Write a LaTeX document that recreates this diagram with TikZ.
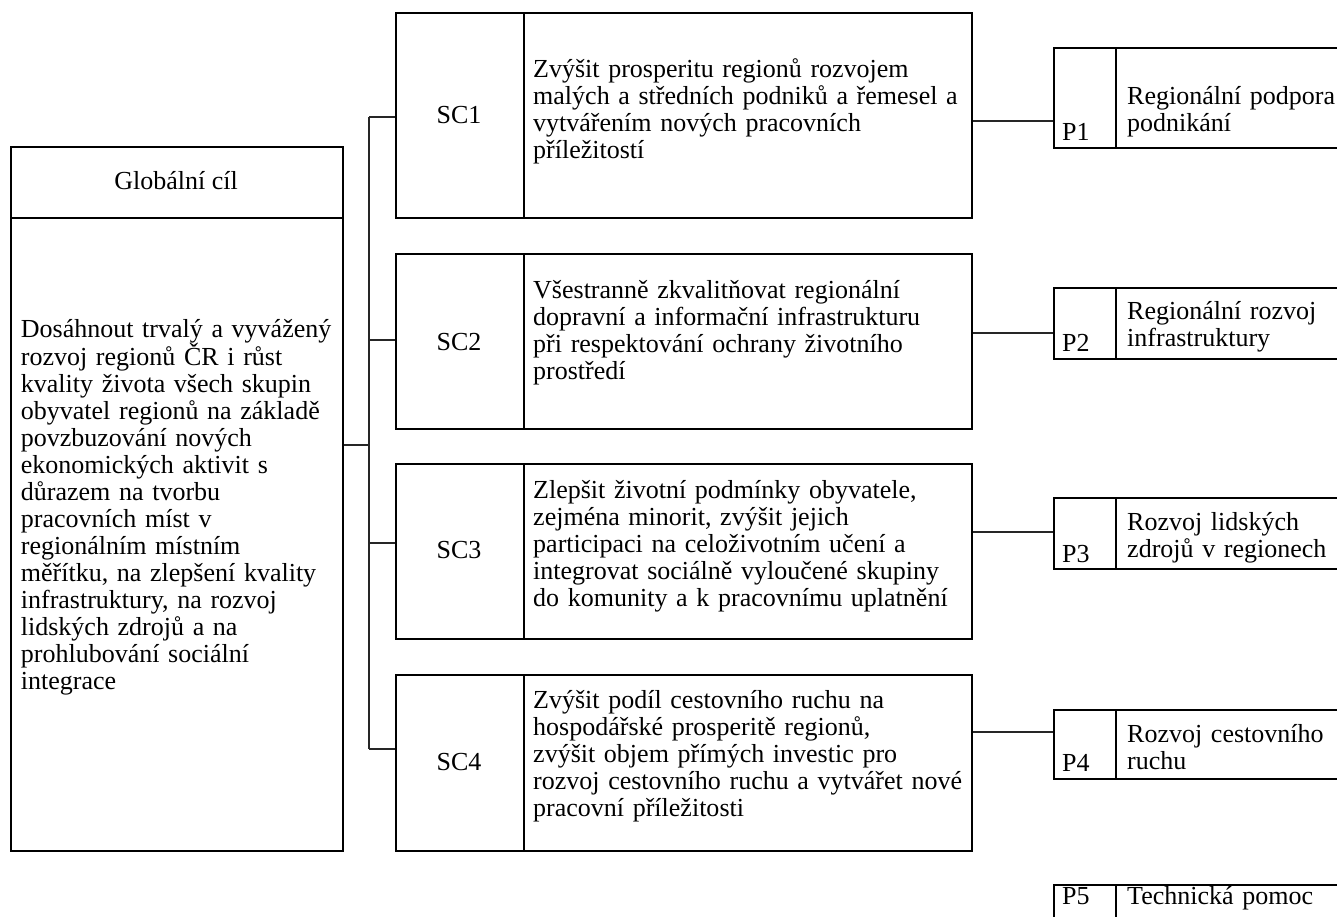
\documentclass[tikz,border=0pt]{standalone}
\usepackage{fontspec}
\setmainfont{Liberation Serif}
\begin{document}
\begin{tikzpicture}[x=1pt,y=-1pt,
  cell/.style={draw=black,line width=2pt,rectangle,inner sep=0pt,anchor=north west},
  txt/.style={inner sep=0pt,anchor=base west,align=left,text width=#1,font=\fontsize{26}{27}\selectfont},
  lbl/.style={inner sep=0pt,anchor=base,font=\fontsize{26}{27}\selectfont},
  plbl/.style={inner sep=0pt,anchor=base west,font=\fontsize{26}{27}\selectfont},
  conn/.style={line width=1.5pt,draw=black!85}]
\useasboundingbox (0,0) rectangle (1337,917);
\clip (0,0) rectangle (1337,917);
\fill[white] (0,0) rectangle (1337,917);
% global goal
\node[cell,minimum width=332pt,minimum height=71pt] (gtitle) at (10,146) {};
\node[cell,minimum width=332pt,minimum height=633pt] (gbody) at (10,217) {};
\node[lbl] (gtitletxt) at (176,190) {Globální cíl};
\node[txt=330pt] (gbodytxt) at (20.7,337) {Dosáhnout trvalý a vyvážený\\rozvoj regionů ČR i růst\\kvality života všech skupin\\obyvatel regionů na základě\\povzbuzování nových\\ekonomických aktivit s\\důrazem na tvorbu\\pracovních míst v\\regionálním místním\\měřítku, na zlepšení kvality\\infrastruktury, na rozvoj\\lidských zdrojů a na\\prohlubování sociální\\integrace};
% SC boxes
\node[cell,minimum width=128pt,minimum height=205pt] (sc1l) at (395,12) {};
\node[cell,minimum width=448pt,minimum height=205pt] (sc1t) at (523,12) {};
\node[cell,minimum width=128pt,minimum height=175pt] (sc2l) at (395,253) {};
\node[cell,minimum width=448pt,minimum height=175pt] (sc2t) at (523,253) {};
\node[cell,minimum width=128pt,minimum height=175pt] (sc3l) at (395,463) {};
\node[cell,minimum width=448pt,minimum height=175pt] (sc3t) at (523,463) {};
\node[cell,minimum width=128pt,minimum height=176pt] (sc4l) at (395,674) {};
\node[cell,minimum width=448pt,minimum height=176pt] (sc4t) at (523,674) {};
\node[lbl] (sc1lab) at (459,124) {SC1};
\node[lbl] (sc2lab) at (459,350) {SC2};
\node[lbl] (sc3lab) at (459,558) {SC3};
\node[lbl] (sc4lab) at (459,770) {SC4};
\node[txt=440pt] (sc1txt) at (533,78) {Zvýšit prosperitu regionů rozvojem\\malých a středních podniků a řemesel a\\vytvářením nových pracovních\\příležitostí};
\node[txt=440pt] (sc2txt) at (533,298) {Všestranně zkvalitňovat regionální\\dopravní a informační infrastrukturu\\při respektování ochrany životního\\prostředí};
\node[txt=440pt] (sc3txt) at (533,498) {Zlepšit životní podmínky obyvatele,\\zejména minorit, zvýšit jejich\\participaci na celoživotním učení a\\integrovat sociálně vyloučené skupiny\\do komunity a k pracovnímu uplatnění};
\node[txt=440pt] (sc4txt) at (533,708) {Zvýšit podíl cestovního ruchu na\\hospodářské prosperitě regionů,\\zvýšit objem přímých investic pro\\rozvoj cestovního ruchu a vytvářet nové\\pracovní příležitosti};
% P boxes
\node[cell,minimum width=62pt,minimum height=100pt] (p1l) at (1053,47) {};
\node[cell,minimum width=240pt,minimum height=100pt] (p1t) at (1115,47) {};
\node[cell,minimum width=62pt,minimum height=71pt] (p2l) at (1053,287) {};
\node[cell,minimum width=240pt,minimum height=71pt] (p2t) at (1115,287) {};
\node[cell,minimum width=62pt,minimum height=71pt] (p3l) at (1053,497) {};
\node[cell,minimum width=240pt,minimum height=71pt] (p3t) at (1115,497) {};
\node[cell,minimum width=62pt,minimum height=69pt] (p4l) at (1053,709) {};
\node[cell,minimum width=240pt,minimum height=69pt] (p4t) at (1115,709) {};
\node[cell,minimum width=62pt,minimum height=60pt] (p5l) at (1053,884) {};
\node[cell,minimum width=240pt,minimum height=60pt] (p5t) at (1115,884) {};
\node[plbl] (p1lab) at (1062,141) {P1};
\node[plbl] (p2lab) at (1062,351) {P2};
\node[plbl] (p3lab) at (1062,562) {P3};
\node[plbl] (p4lab) at (1062,771) {P4};
\node[plbl] (p5lab) at (1062,904) {P5};
\node[txt=230pt] (p1txt) at (1127,105) {Regionální podpora\\podnikání};
\node[txt=230pt] (p2txt) at (1127,319) {Regionální rozvoj\\infrastruktury};
\node[txt=230pt] (p3txt) at (1127,530) {Rozvoj lidských\\zdrojů v regionech};
\node[txt=230pt] (p4txt) at (1127,742) {Rozvoj cestovního\\ruchu};
\node[txt=230pt] (p5txt) at (1127,904) {Technická pomoc};
% connectors
\coordinate (b0) at (369,445);
\coordinate (b1) at (369,117);
\coordinate (b2) at (369,340);
\coordinate (b3) at (369,543);
\coordinate (b4) at (369,749);
\draw[conn] (gbody.east |- b0) -- (b0);
\draw[conn] (b1) -- (b4);
\draw[conn] (b1) -- (sc1l.west |- b1);
\draw[conn] (b2) -- (sc2l.west |- b2);
\draw[conn] (b3) -- (sc3l.west |- b3);
\draw[conn] (b4) -- (sc4l.west |- b4);
\coordinate (q1) at (1053,121);
\coordinate (q2) at (1053,333);
\coordinate (q3) at (1053,532);
\coordinate (q4) at (1053,732);
\draw[conn] (sc1t.east |- q1) -- (p1l.west |- q1);
\draw[conn] (sc2t.east |- q2) -- (p2l.west |- q2);
\draw[conn] (sc3t.east |- q3) -- (p3l.west |- q3);
\draw[conn] (sc4t.east |- q4) -- (p4l.west |- q4);
\end{tikzpicture}
\end{document}
